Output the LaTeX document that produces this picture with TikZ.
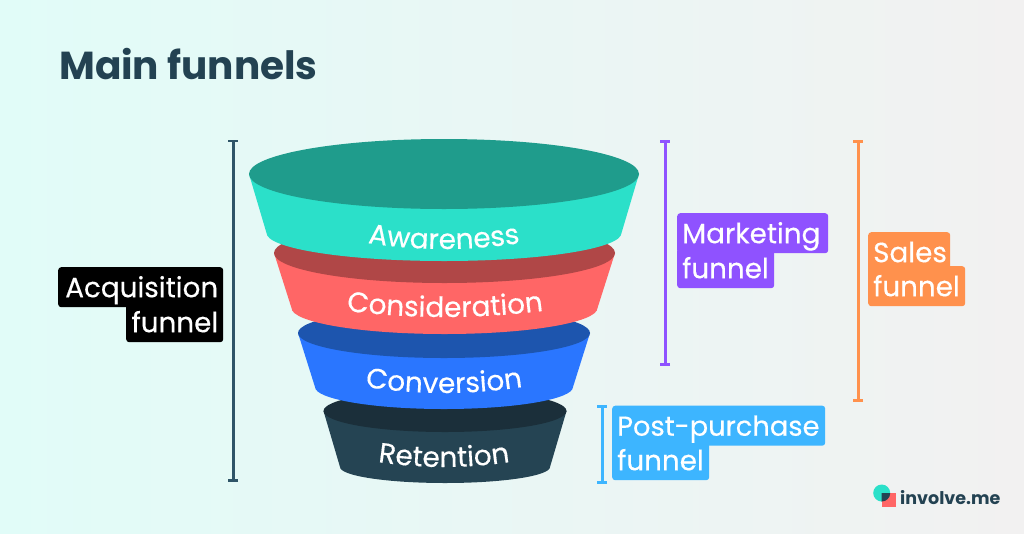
\documentclass[tikz,border=0pt]{standalone}
\usepackage{fontspec}
\usetikzlibrary{arrows.meta,decorations.text}
\newfontfamily\popf[FakeBold=0.35]{Poppins}
\newfontfamily\popb{Poppins}
\definecolor{bgL}{HTML}{E1FCF8}
\definecolor{bgR}{HTML}{F2F1F1}
\definecolor{ink}{HTML}{234252}
\definecolor{tealS}{HTML}{2BE0C9}
\definecolor{tealD}{HTML}{1F9C8C}
\definecolor{redS}{HTML}{FF6666}
\definecolor{redD}{HTML}{B04747}
\definecolor{blueS}{HTML}{2A76FF}
\definecolor{blueD}{HTML}{1D55AE}
\definecolor{darkS}{HTML}{254453}
\definecolor{darkD}{HTML}{1B2F3A}
\definecolor{purp}{HTML}{8F52FF}
\definecolor{oran}{HTML}{FF914D}
\definecolor{sky}{HTML}{3DB5FF}
\definecolor{brk}{HTML}{2F5568}
\newcommand\tagfont{\popf\fontsize{27.8}{30}\selectfont}
\newcommand\arcfont{\popf\fontsize{28}{30}\selectfont}
% funnel: xc, ytop, rxtop, rytop, ybot, rxbot, rybot, side colour, top colour
\newcommand\funnelpart[9]{%
  \fill[#8] ({#1-#3},#2) -- ({#1-#6},#5)
     arc[start angle=180,end angle=360,x radius=#6pt,y radius=#7pt]
     -- ({#1+#3},#2) -- cycle;
  \fill[#9] (#1,#2) ellipse[x radius=#3pt,y radius=#4pt];
}
% curved label: xc, ymid, half chord, sag, text
\newcommand\arclabel[5]{%
  \path[decorate,decoration={text along path,text align=center,
     text={|\arcfont\color{white}|#5}}]
    ({#1-1.6*#3},{#2-2.56*#4})
    .. controls ({#1-0.533*#3},{#2+0.853*#4}) and ({#1+0.533*#3},{#2+0.853*#4})
    .. ({#1+1.6*#3},{#2-2.56*#4});
}
\tikzset{
  tagbox/.style={anchor=north west,rounded corners=3pt,inner xsep=5pt,inner ysep=0pt,
     text=white,font=\tagfont,text height=23pt,text depth=3pt,align=left},
  bracket/.style={line width=3pt,{Bar[width=10pt,line width=2.6pt]}-{Bar[width=10pt,line width=2.6pt]}},
}
\begin{document}
\begin{tikzpicture}[x=1pt,y=-1pt]
\useasboundingbox (0,0) rectangle (1024,533);
\shade[left color=bgL,right color=bgR] (0,0) rectangle (1024,533);

\node[anchor=base west,inner sep=0pt,text=ink,font=\popb\bfseries\fontsize{39}{42}\selectfont] (title) at (59,79) {Main funnels};

% funnel
\funnelpart{445}{411}{121.5}{21}{467}{105}{16}{darkS}{darkD}
\funnelpart{444}{333}{146}{25}{387}{129}{22}{blueS}{blueD}
\funnelpart{444.5}{253}{170.5}{30}{308}{153}{26}{redS}{redD}
\funnelpart{444}{174}{195}{35}{233}{177.5}{28}{tealS}{tealD}
\arclabel{444}{249}{76}{6}{Awareness}
\arclabel{445}{317}{97}{6}{Consideration}
\arclabel{444}{393}{78}{6}{Conversion}
\arclabel{444}{467}{66}{5}{Retention}

% brackets
\coordinate (acqT) at (233,139.5); \coordinate (acqB) at (233,482);
\coordinate (mktT) at (665,140);   \coordinate (mktB) at (665,366);
\coordinate (salT) at (858,140);   \coordinate (salB) at (858,402);
\coordinate (posT) at (602,405);   \coordinate (posB) at (602,484);
\draw[bracket,brk] (acqT) -- (acqB);
\draw[bracket,purp] (mktT) -- (mktB);
\draw[bracket,oran] (salT) -- (salB);
\draw[bracket,sky] (posT) -- (posB);

% tags (second line first so that its box stays under the first line's text)
\node[tagbox,fill=black,align=right,text width=87pt,minimum height=40pt] (acq2) at (126,302) {funnel};
\node[tagbox,fill=black,align=right,text width=155pt,minimum height=40pt] (acq1) at (58,267) {Acquisition};

\node[tagbox,fill=purp,text width=87pt,minimum height=40pt] (mkt2) at (677,248) {funnel};
\node[tagbox,fill=purp,text width=141pt,minimum height=40pt] (mkt1) at (677,213) {Marketing};

\node[tagbox,fill=oran,text width=87pt,minimum height=40pt] (sal2) at (868,266) {funnel};
\node[tagbox,fill=oran,text width=72pt,minimum height=40pt] (sal1) at (868,232) {Sales};

\node[tagbox,fill=sky,text width=87pt,minimum height=40pt] (pos2) at (612,440) {funnel};
\node[tagbox,fill=sky,text width=203pt,minimum height=40pt] (pos1) at (612,405.5) {\mbox{\fontsize{27.3}{30}\selectfont Post-purchase}};

% logo
\fill[tealS] (881.7,493) circle[radius=8.5pt];
\fill[redS] (881.7,493) rectangle (895.7,507);
\begin{scope}
\clip (881.7,493) rectangle (895.7,507);
\fill[ink] (881.7,493) circle[radius=8.5pt];
\end{scope}
\node[anchor=base west,inner sep=0pt,text=ink,font=\popb\bfseries\fontsize{17.5}{20}\selectfont] (brand) at (900,504) {involve.me};
\end{tikzpicture}
\end{document}
